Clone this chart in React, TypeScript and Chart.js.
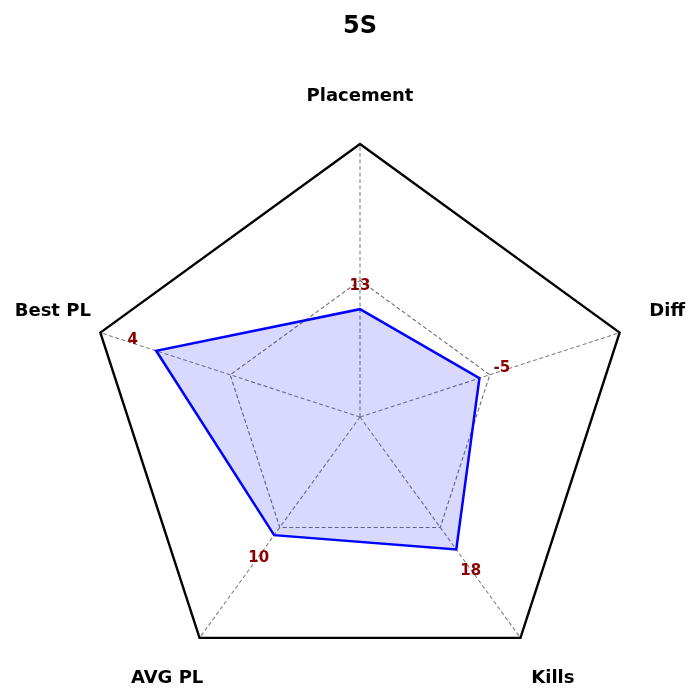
import React, { useEffect, useRef } from "react";
import { Chart, registerables } from "chart.js";

Chart.register(...registerables);

const categories = ["Placement", "Diff", "Kills", "AVG PL", "Best PL"];
const rawValues = [13, -5, 18, 10, 4];
const normalizedValues = [0.395, 0.46, 0.6, 0.535, 0.785];
const chartTitle = "5S";

// small pixel nudges for the labels (style only)
const labelNudges = [
  [0, 2],
  [0, -6],
  [3, 0],
  [-3, 0],
  [0, -6],
];
const valueNudges = [
  [0, 2],
  [-1, -2],
  [0, 2],
  [-1, 3],
  [0, -3],
];

const labelsPlugin = {
  id: "customLabels",
  afterDatasetsDraw(chart: any) {
    const scale = chart.scales.r;
    const ctx = chart.ctx;
    ctx.save();
    ctx.font = "bold 18px 'DejaVu Sans'";
    ctx.fillStyle = "#000000";
    ctx.textAlign = "center";
    ctx.textBaseline = "middle";
    categories.forEach((c, i) => {
      const p = scale.getPointPosition(i, scale.drawingArea + 50);
      ctx.fillText(c, p.x + labelNudges[i][0], p.y + labelNudges[i][1]);
    });
    ctx.font = "bold 15px 'DejaVu Sans'";
    ctx.fillStyle = "#8b0000";
    rawValues.forEach((v, i) => {
      const p = scale.getPointPositionForValue(i, normalizedValues[i] + 0.09);
      ctx.fillText(String(v), p.x + valueNudges[i][0], p.y + valueNudges[i][1]);
    });
    ctx.restore();
  },
};

export default function App() {
  const ref = useRef<HTMLCanvasElement | null>(null);
  useEffect(() => {
    document.body.style.margin = "0";
    const chart = new Chart(ref.current as HTMLCanvasElement, {
      type: "radar",
      data: {
        labels: categories,
        datasets: [
          {
            data: normalizedValues,
            borderColor: "#0000ff",
            backgroundColor: "rgba(0,0,255,0.15)",
            borderWidth: 2.5,
            pointRadius: 0,
            fill: true,
          },
        ],
      },
      plugins: [labelsPlugin],
      options: {
        animation: false,
        responsive: false,
        maintainAspectRatio: false,
        layout: { padding: { left: 87, right: 67, top: 0, bottom: 10 } },
        plugins: {
          legend: { display: false },
          tooltip: { enabled: false },
          title: {
            display: true,
            text: chartTitle,
            color: "#000000",
            font: { family: "'DejaVu Sans'", size: 24, weight: "bold" },
            padding: { top: 12, bottom: 103.2 },
          },
        },
        scales: {
          r: {
            min: 0,
            max: 1,
            ticks: { display: false, stepSize: 0.5 },
            pointLabels: { display: false },
            grid: {
              color: (c: any) => (c.tick && c.tick.value === 1 ? "#000000" : "#707070"),
              lineWidth: (c: any) => (c.tick && c.tick.value === 1 ? 2.4 : 1.1),
            },
            border: {
              dash: (c: any) => (c.tick && c.tick.value === 1 ? [] : [4, 2.5]),
            },
            angleLines: {
              color: "#808080",
              lineWidth: 1.1,
              borderDash: [4, 2.5],
            },
          },
        },
      },
    });
    return () => chart.destroy();
  }, []);
  return (
    <div style={{ width: 700, height: 700 }}>
      <canvas ref={ref} width={700} height={700} />
    </div>
  );
}
